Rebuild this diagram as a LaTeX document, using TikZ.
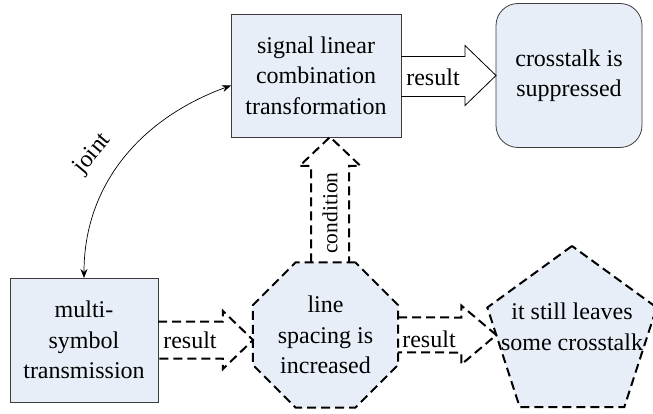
\documentclass[tikz,border=0pt]{standalone}
\usepackage{fontspec}
\setmainfont{Liberation Serif}
\usetikzlibrary{shapes.geometric,arrows.meta,calc}
\definecolor{boxblue}{RGB}{232,238,248}
\definecolor{edgegray}{RGB}{60,60,60}
\begin{document}
\begin{tikzpicture}[x=1pt,y=1pt]
\tikzstyle{every node}+=[inner sep=0pt, outer sep=0pt, align=center, font=\fontsize{24}{30.5}\selectfont]
\tikzstyle{box}=[draw=edgegray, line width=0.8pt, fill=boxblue]
\tikzstyle{dashbox}=[draw=black, line width=2pt, dash pattern=on 9pt off 5pt, fill=boxblue]
\tikzstyle{hollow}=[draw=black, line width=0.8pt, line join=miter]
\tikzstyle{dashhollow}=[draw=black, line width=2pt, dash pattern=on 9pt off 5pt, line join=miter]
\useasboundingbox (0,0) rectangle (653,-414);
\node [box, minimum width=170pt, minimum height=123pt] (lincomb) at (316,-75.5) {signal linear\\combination\\transformation};
\node [box, rounded corners=22pt, minimum width=146pt, minimum height=144pt] (suppressed) at (569,-75.5) {crosstalk is\\suppressed};
\node [box, minimum width=148pt, minimum height=124pt] (multisym) at (84,-340) {multi-\\symbol\\transmission};
\node [dashbox, regular polygon, regular polygon sides=8, minimum size=157pt] (spacing) at (325.5,-335) {line\\spacing is\\increased};
\node [dashbox, regular polygon, regular polygon sides=5, minimum size=178pt] (leaves) at (572,-335) {};
\node (leavestext) at ($(leaves.center)+(0,8)$) {it still leaves\\some crosstalk};
% result: lincomb -> suppressed
\draw [hollow] ($(lincomb.east)+(0,19)$) -- ($(suppressed.west)+(-31,19)$) -- ($(suppressed.west)+(-31,30)$) -- (suppressed.west) -- ($(suppressed.west)+(-31,-30)$) -- ($(suppressed.west)+(-31,-21)$) -- ($(lincomb.east)+(0,-21)$);
\node (res1) at (433,-77) {result};
% result: multisym -> spacing
\coordinate (tip2) at (multisym.east -| spacing.west);
\draw [dashhollow] ($(multisym.east)+(0,18.5)$) -- ($(tip2)+(-30,18.5)$) -- ($(tip2)+(-30,29)$) -- (tip2) -- ($(tip2)+(-30,-29)$) -- ($(tip2)+(-30,-18.5)$) -- ($(multisym.east)+(0,-18.5)$);
\node (res2) at (190,-340) {result};
% result: spacing -> leaves
\draw [dashhollow] ($(spacing.east)+(0,17.5)$) -- ($(leaves.west)+(-35,17.5)$) -- ($(leaves.west)+(-35,29.5)$) -- (leaves.west) -- ($(leaves.west)+(-35,-29.5)$) -- ($(leaves.west)+(-35,-17.5)$) -- ($(spacing.east)+(0,-17.5)$);
\node (res3) at (429,-339) {result};
% condition: spacing -> lincomb
\coordinate (cbase) at ($(spacing.north)+(4.5,0)$);
\coordinate (ctip) at (cbase |- lincomb.south);
\draw [dashhollow] ($(cbase)+(-19,0)$) -- ($(ctip)+(-19,-29)$) -- ($(ctip)+(-30.5,-29)$) -- (ctip) -- ($(ctip)+(30.5,-29)$) -- ($(ctip)+(19,-29)$) -- ($(cbase)+(19,0)$);
\node [rotate=90, font=\fontsize{21.5}{24}\selectfont] (cond) at (330,-213) {condition};
% joint
\coordinate (jointend) at ($(lincomb.west)+(0,-10)$);
\draw [{Stealth[length=9pt,width=7pt]}-{Stealth[length=9pt,width=7pt]}, line width=0.7pt] (multisym.north) to [out=90, in=200] (jointend);
\node [rotate=50] (jnt) at (93,-154) {joint};
\end{tikzpicture}
\end{document}
